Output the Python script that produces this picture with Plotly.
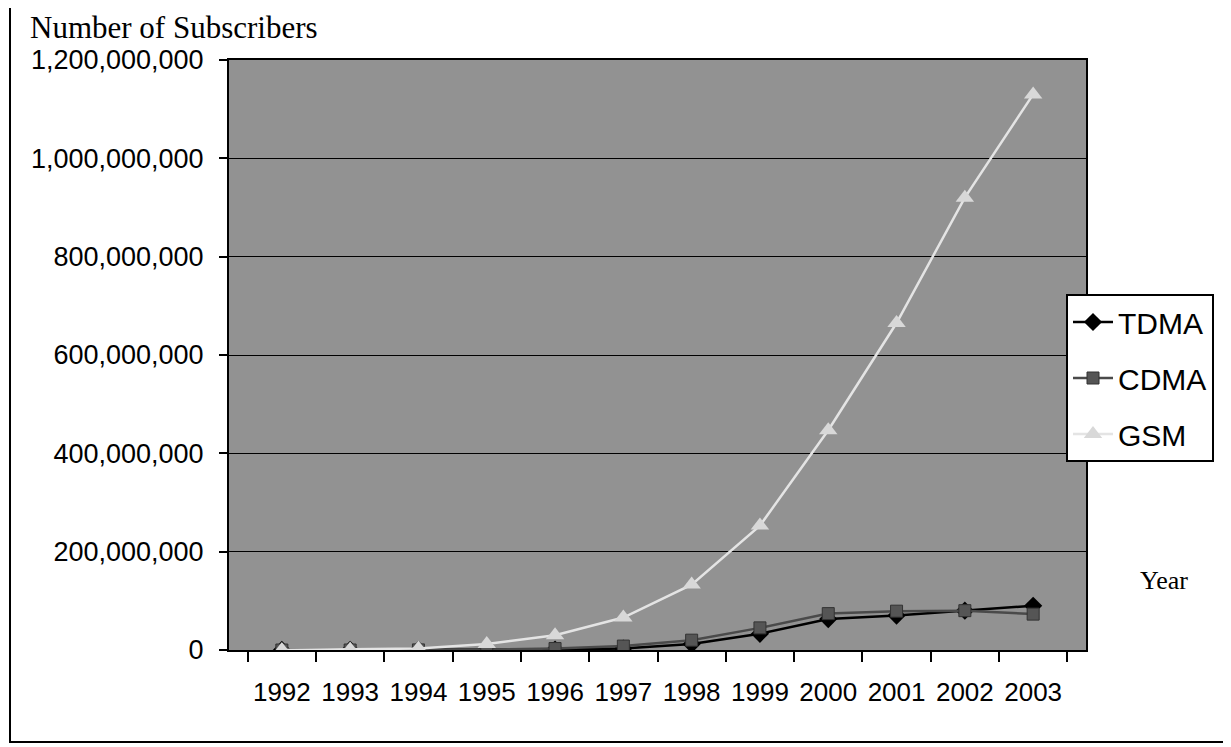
import plotly.graph_objects as go

years = ["1992", "1993", "1994", "1995", "1996", "1997", "1998", "1999", "2000", "2001", "2002", "2003"]
tdma = [0.1e6, 0.3e6, 0.5e6, 0.8e6, 1.0e6, 3e6, 12e6, 33e6, 63e6, 70e6, 80e6, 90e6]
cdma = [0, 0, 0.2e6, 1e6, 3e6, 8e6, 20e6, 45e6, 74e6, 79e6, 80e6, 73e6]
gsm = [0.2e6, 1e6, 3e6, 12e6, 30e6, 66e6, 133e6, 253e6, 447e6, 665e6, 920e6, 1130e6]

OFF = 8  # default page body margin
W, H = 1231 - OFF, 747 - OFF
L, R, T, B = 229, 1086, 60, 650  # target page coordinates of the plot area

def px(x):
    return (x - L) / (R - L)

def py(y):
    return (B - y) / (B - T)

fig = go.Figure()
fig.add_trace(go.Scatter(x=years, y=tdma, name="TDMA", mode="lines+markers", legendgroup="a",
                         line=dict(color="#000000", width=2.5),
                         marker=dict(symbol="diamond", size=14, color="#000000")))
fig.add_trace(go.Scatter(x=years, y=cdma, name="CDMA", mode="lines+markers", legendgroup="b",
                         line=dict(color="#4a4a4a", width=2.5),
                         marker=dict(symbol="square", size=12, color="#555555",
                                     line=dict(color="#333333", width=1))))
fig.add_trace(go.Scatter(x=years, y=gsm, name="GSM", mode="lines+markers", legendgroup="c",
                         line=dict(color="#e4e4e4", width=2.5),
                         marker=dict(symbol="triangle-up", size=16, color="#d8d8d8")))

fig.update_layout(
    width=W, height=H,
    margin=dict(l=L - OFF, r=W - (R - OFF), t=T - OFF, b=H - (B - OFF)),
    paper_bgcolor="white",
    plot_bgcolor="#929292",
    font=dict(family="Liberation Sans, Arial, sans-serif", color="black"),
    showlegend=True,
    legend=dict(x=px(1066), y=py(294), xanchor="left", yanchor="top",
                bgcolor="white", bordercolor="black", borderwidth=2,
                font=dict(size=30, family="Liberation Sans, Arial, sans-serif"),
                tracegroupgap=14, itemwidth=40, entrywidth=150),
    xaxis=dict(type="category", showgrid=False, showline=True, linecolor="black",
               linewidth=2, mirror=True, ticks="outside", tickson="boundaries",
               ticklen=10, tickwidth=2, tickcolor="black", tickangle=0,
               tickfont=dict(size=26), ticklabelstandoff=18, zeroline=False),
    yaxis=dict(range=[0, 1.2e9], dtick=2e8, tickformat=",d", showgrid=True,
               gridcolor="black", gridwidth=1.2, showline=True, linecolor="black",
               linewidth=2, mirror=True, ticks="outside", ticklen=8, tickwidth=2,
               tickcolor="black", tickfont=dict(size=27), ticklabelstandoff=10,
               zeroline=False),
    annotations=[
        dict(text="Number of Subscribers", x=px(28), y=py(28), xref="paper", yref="paper",
             xanchor="left", yanchor="middle", showarrow=False,
             font=dict(family="Liberation Serif, Times New Roman, serif", size=31)),
        dict(text="Year", x=px(1138), y=py(580), xref="paper", yref="paper",
             xanchor="left", yanchor="middle", showarrow=False,
             font=dict(family="Liberation Serif, Times New Roman, serif", size=26)),
    ],
    shapes=[
        dict(type="rect", xref="paper", yref="paper", x0=px(10), x1=px(1260),
             y0=py(742), y1=py(6), line=dict(color="black", width=2),
             fillcolor="rgba(0,0,0,0)", layer="below"),
    ],
)

fig.write_html("out.html")
